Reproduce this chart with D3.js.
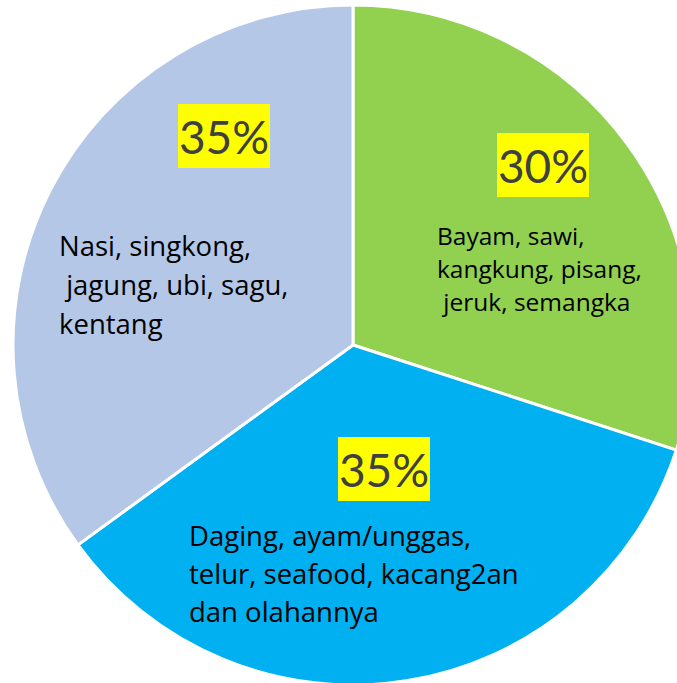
<!DOCTYPE html>
<html>
<head>
<meta charset="utf-8">
<script src="https://cdn.jsdelivr.net/npm/d3@7"></script>
<style>
  body { margin: 0; background: #fff; }
  svg { display: block; }
</style>
</head>
<body>
<div id="wrapper"></div>
<script>
// data
const categories = ["Sayur & buah", "Lauk pauk", "Makanan pokok"];
const values = [30, 35, 35];
const colors = ["#92D050", "#00B0F0", "#B4C7E7"];
const descLines = [
  ["Bayam, sawi,", "kangkung, pisang,", " jeruk, semangka"],
  ["Daging, ayam/unggas,", "telur, seafood, kacang2an", "dan olahannya"],
  ["Nasi, singkong,", " jagung, ubi, sagu,", "kentang"]
];

function drawChart() {
  const width = 677;
  const height = 683;
  const cx = 353, cy = 345, radius = 340;

  const svg = d3.select("#wrapper")
    .append("svg")
    .attr("width", width)
    .attr("height", height);

  const g = svg.append("g")
    .attr("transform", `translate(${cx},${cy})`);

  const pie = d3.pie().sort(null).value(d => d)(values);
  const arc = d3.arc().innerRadius(0).outerRadius(radius);

  g.selectAll("path.slice")
    .data(pie)
    .enter().append("path")
    .attr("class", "slice")
    .attr("d", arc)
    .attr("fill", (d, i) => colors[i])
    .attr("stroke", "#fff")
    .attr("stroke-width", 3)
    .attr("stroke-linejoin", "miter");

  // label placement relative to center (offsets)
  const pctPos = [[190, -180], [31, 124], [-129, -209]];
  const pctSize = [46, 46, 46];
  const descPos = [[84, -110], [-164, 190], [-294, -100]];
  const descSize = [24.5, 27.5, 27.5];
  const descGap = [33, 38, 39];

  pie.forEach((d, i) => {
    const pg = g.append("g")
      .attr("transform", `translate(${pctPos[i][0]},${pctPos[i][1]})`);
    pg.append("rect")
      .attr("x", -46)
      .attr("y", -32)
      .attr("width", 92)
      .attr("height", 64)
      .attr("fill", "#FFFF00");
    pg.append("text")
      .attr("text-anchor", "middle")
      .attr("dominant-baseline", "central")
      .attr("font-family", "Lato, 'Open Sans', sans-serif")
      .attr("font-size", pctSize[i])
      .attr("fill", "#404040")
      .text(d3.format(".0%")(d.value / 100));

    const tg = g.append("text")
      .attr("font-family", "'Open Sans', sans-serif")
      .attr("font-size", descSize[i])
      .attr("fill", "#000")
      .attr("xml:space", "preserve")
      .style("white-space", "pre");
    descLines[i].forEach((line, j) => {
      tg.append("tspan")
        .attr("x", descPos[i][0])
        .attr("y", descPos[i][1] + j * descGap[i])
        .attr("dominant-baseline", "central")
        .text(line);
    });
  });
}
drawChart();
</script>
</body>
</html>
